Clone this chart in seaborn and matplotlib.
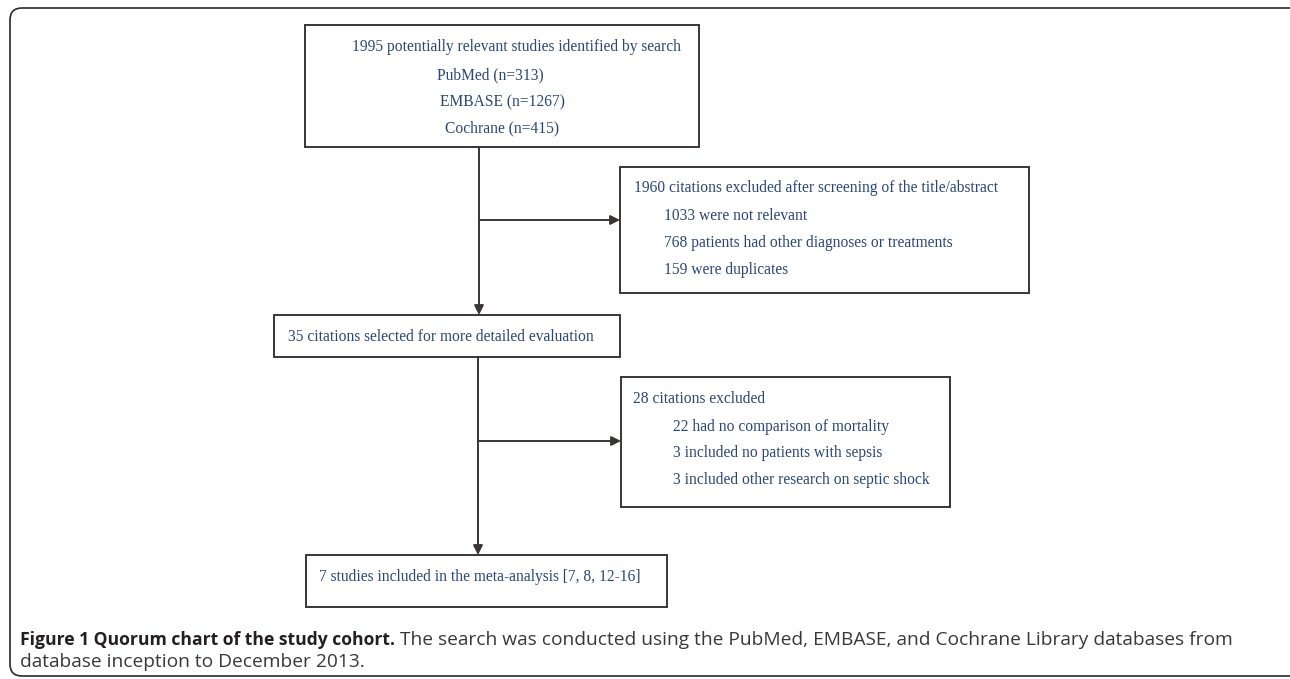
import matplotlib
matplotlib.use("Agg")
import matplotlib.pyplot as plt
import seaborn as sns
from matplotlib.patches import Rectangle, FancyBboxPatch

sns.set_theme(style="white")
plt.rcParams['font.family'] = ['Liberation Serif', 'DejaVu Serif']

# ---- data (text content of the flow chart) ----
search_title = "1995 potentially relevant studies identified by search"
search_sources = ["PubMed (n=313)", "EMBASE (n=1267)", "Cochrane (n=415)"]
screen_title = "1960 citations excluded after screening of the title/abstract"
screen_reasons = ["1033 were not relevant",
                  "768 patients had other diagnoses or treatments",
                  "159 were duplicates"]
selected_text = "35 citations selected for more detailed evaluation"
excl_title = "28 citations excluded"
excl_reasons = ["22 had no comparison of mortality",
                "3 included no patients with sepsis",
                "3 included other research on septic shock"]
included_text = "7 studies included in the meta-analysis [7, 8, 12-16]"
caption_bold = "Figure 1 Quorum chart of the study cohort."
caption_rest = " The search was conducted using the PubMed, EMBASE, and Cochrane Library databases from"
caption_line2 = "database inception to December 2013."

W, H = 1290, 679
fig = plt.figure(figsize=(W / 100, H / 100), dpi=100)
ax = fig.add_axes([0, 0, 1, 1])
ax.set_xlim(0, W)
ax.set_ylim(H, 0)
ax.axis("off")

TXT = "#2a4678"
EDGE = "#3a3434"
FS = 11.2

# outer rounded border (clipped at right/bottom like the reference)
ax.add_patch(FancyBboxPatch((10, 8), 1320, 668, boxstyle="round,pad=0,rounding_size=12",
                            fill=False, ec="#2a2a2a", lw=1.2, clip_on=True))

def box(x0, y0, x1, y1):
    ax.add_patch(Rectangle((x0, y0), x1 - x0, y1 - y0, fill=False, ec=EDGE, lw=1.4))

def txt(x, y, s, fs=FS):
    ax.text(x, y, s, color=TXT, fontsize=fs, va="center", ha="left")

# boxes
box(305, 25, 699, 147)
box(620, 167, 1029, 293)
box(274, 315, 620, 357)
box(621, 377, 950, 507)
box(306, 555, 667, 607)

# box 1 text
txt(352, 47, search_title)
for (x, y), s in zip([(437, 75), (440, 102), (445, 128)], search_sources):
    txt(x, y, s)
# box 2 text
txt(634, 188, screen_title)
for y, s in zip([216, 243, 270], screen_reasons):
    txt(664, y, s)
# box 3 text
txt(288, 337, selected_text)
# box 4 text
txt(633, 399, excl_title)
for y, s in zip([427, 453, 480], excl_reasons):
    txt(673, y, s)
# box 5 text
txt(319, 577, included_text)

# connectors
ap = dict(arrowstyle="-|>", color=EDGE, lw=1.4, mutation_scale=14, shrinkA=0, shrinkB=0)
ax.annotate("", xy=(479, 315), xytext=(479, 147), arrowprops=ap)
ax.annotate("", xy=(620, 220), xytext=(479, 220), arrowprops=ap)
ax.annotate("", xy=(478, 555), xytext=(478, 357), arrowprops=ap)
ax.annotate("", xy=(621, 441), xytext=(478, 441), arrowprops=ap)

# caption
CAP = "#231f20"
CAP_N = "#383838"
t1 = ax.text(20, 640, caption_bold, fontsize=12.6, fontweight="bold", family="Open Sans",
             color=CAP, va="center", ha="left")
fig.canvas.draw()
bb = t1.get_window_extent(renderer=fig.canvas.get_renderer())
x_end = ax.transData.inverted().transform((bb.x1, bb.y0))[0]
ax.text(x_end, 640, caption_rest, fontsize=13.8, family="Open Sans",
        color=CAP_N, va="center", ha="left")
ax.text(20, 662, caption_line2, fontsize=13.8, family="Open Sans",
        color=CAP_N, va="center", ha="left")

fig.savefig("out.png", dpi=100)
